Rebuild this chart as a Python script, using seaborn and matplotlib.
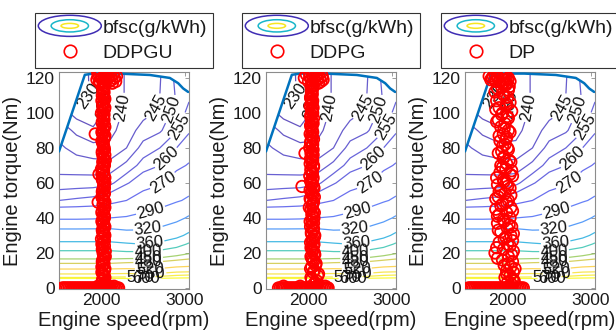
import numpy as np
import matplotlib
matplotlib.use("Agg")
import matplotlib.pyplot as plt
import seaborn as sns
from matplotlib.colors import LinearSegmentedColormap
from matplotlib.patches import Ellipse, Polygon
from matplotlib.legend_handler import HandlerBase
from matplotlib.lines import Line2D

# ---------------- bfsc map ----------------
map_speed = [1490, 1700, 1900, 2100, 2300, 2500, 2700, 2900, 3050]
map_torque = [0, 3, 6, 10, 15, 20, 25, 30, 40, 50, 60, 70, 80, 90, 100, 110, 124]
# bfsc (g/kWh) at each map_torque, one list per map_speed column
bfsc_1490 = [1000, 733, 570, 530, 468, 411, 368, 340, 286, 260, 251.9, 248, 246, 243, 238, 233, 229]
bfsc_1700 = [1000, 733, 570, 530, 468, 411, 368, 340, 286, 261, 252.2, 247.5, 243.3, 238.8, 233, 228.5, 227.5]
bfsc_1900 = [1000, 733, 570, 530, 468, 411, 368, 340, 287, 262, 252.4, 247.1, 241.7, 236.1, 231, 230.5, 231]
bfsc_2100 = [1000, 733, 572, 531, 468, 411, 368, 339, 290, 265, 253.6, 246.9, 241.1, 238.5, 237.5, 237, 237]
bfsc_2300 = [1000, 714, 573, 532, 473.5, 406.8, 364, 332.3, 291.8, 270, 259.2, 251.4, 245, 242.5, 241, 240.5, 240.5]
bfsc_2500 = [1000, 700, 570, 528.6, 476.1, 407.1, 360, 331.4, 296, 276.7, 264.5, 257.2, 252, 247, 243.5, 243, 242.5]
bfsc_2700 = [1000, 721, 576.8, 532, 480, 414.3, 368, 337.1, 300.9, 281.4, 268.3, 260, 255, 249.3, 245.8, 245, 244.5]
bfsc_2900 = [1000, 739, 582.5, 540, 490, 431.3, 381.8, 350.6, 310.9, 287.8, 276.7, 267.1, 260, 254.6, 252.5, 250.5, 251.5]
bfsc_3050 = [1000, 760, 585, 541.4, 495, 446, 405.6, 367.5, 324, 293, 281, 271, 264.4, 259.1, 256.2, 254.3, 253.5]

bfsc_levels = [230, 235, 240, 245, 250, 255, 260, 270, 290, 320, 360, 400, 450, 480, 520, 550, 570, 600]
label_speed = [1840, 2030, 2260, 2650, 2840, 2955, 2780, 2750, 2590, 2560, 2580, 2560, 2560, 2560, 2580, 2600, 2470, 2540]
label_torque = [110, 105, 103, 103, 102, 92, 74, 60, 44, 33, 25, 20.5, 17, 15, 10.8, 8, 6, 4]

max_torque_speed = [1490, 1800, 1900, 2200, 2580, 2820, 2920, 2980, 3040]
max_torque_value = [78, 121.8, 122.5, 122.5, 121.7, 120, 117, 114, 112]

# ---------------- operating points ----------------
ddpgu_bar_speed = [1530, 1550, 1570, 1590, 1610, 1630, 1650, 1670, 1690, 1710, 1730, 1750, 1770, 1790, 1810,
                   1830, 1850, 1870, 1890, 1910, 1930, 1950, 1970, 1990, 2010, 2030, 2050, 2070, 2090, 2110,
                   2130, 2150, 2170, 2190, 2205, 1960, 2000, 2050, 2100, 2150]
ddpgu_bar_torque = [0] * 35 + [1, 1, 1, 1, 1]
ddpgu_col_speed = [2025, 2010, 2040, 2020, 2035, 2005, 2030, 2015, 2045, 2020,
                   2010, 2035, 2025, 2000, 2040, 2015, 2030, 2020, 2005, 2035,
                   2025, 2010, 2040, 2020, 2030, 2005, 2035, 2015, 2025, 2040,
                   2010, 2030, 2020, 2000, 2035, 2015, 2025, 2040, 2010, 2030,
                   2020, 2005, 2035, 2015, 2025, 2040, 2010, 2030, 2020, 2000,
                   2035, 2015, 2025, 2040, 2010, 2030, 2020, 2025,
                   2035, 2015, 2030, 2005, 2040, 2020, 2010, 2030, 2025, 2045,
                   2015, 2005, 2035, 2020, 2030, 2010, 2040, 2025, 2015, 2035,
                   2005, 2030, 2020, 2040, 2015, 2025, 2010, 2035, 2030, 2020,
                   2040, 2005, 2025, 2015, 2030, 2045, 2020, 2010, 2035, 2025,
                   2015, 2030, 2040, 2005, 2020, 2035, 2010, 2025, 2030, 2015,
                   2040, 2020, 2005, 2030, 2025, 2015, 2035, 2020,
                   1925, 1960, 1970]
ddpgu_col_torque = [2, 4, 6, 8, 10, 12, 14, 16, 18, 20, 22, 24, 26, 28, 30, 32, 34, 36, 38, 40,
                    42, 44, 46, 48, 50, 52, 54, 56, 58, 60, 62, 64, 66, 68, 70, 72, 74, 76, 78, 80,
                    82, 84, 86, 88, 90, 92, 94, 96, 98, 100, 102, 104, 106, 108, 110, 112, 114, 116,
                    3, 5, 7, 9, 11, 13, 15, 17, 19, 21, 23, 25, 27, 29, 31, 33, 35, 37, 39, 41,
                    43, 45, 47, 49, 51, 53, 55, 57, 59, 61, 63, 65, 67, 69, 71, 73, 75, 77, 79, 81,
                    83, 85, 87, 89, 91, 93, 95, 97, 99, 101, 103, 105, 107, 109, 111, 113, 115, 117,
                    88, 49, 65]
ddpgu_top_speed = [1945, 1960, 1975, 1990, 2005, 2020, 2035, 2050, 2065, 2080, 2095, 2110, 2125, 2140,
                   2155, 2170, 2180, 1955, 2060, 2100, 1985, 2130]
ddpgu_top_torque = [119, 121, 118, 122, 120, 118, 121, 119, 122, 120, 118, 121, 119, 122,
                    120, 118, 121, 123, 123, 123, 117, 117]

ddpg_bar_speed = [1640, 1660, 1680, 1700, 1720, 1740, 1760, 1780, 1800, 1820, 1840, 1860, 1880, 1900,
                  1920, 1940, 1960, 1980, 2000, 2020, 2040, 2060, 2080, 2100, 2120, 2140, 2160, 2180,
                  2200, 2220, 2235, 1700, 1900, 2100, 2200]
ddpg_bar_torque = [0] * 31 + [1, 1, 1, 1]
ddpg_col_speed = [2060, 2100, 2030, 2120, 2070, 2040, 2090, 2050, 2030, 2070,
                  2045, 2060, 2025, 2055, 2075, 2035, 2060, 2045, 2020, 2065,
                  2040, 2055, 2010, 2050, 2030, 2070, 2040, 2020, 2060, 2035,
                  2050, 2015, 2045, 2030, 2060, 2040, 2025, 2055, 2035, 2015,
                  2050, 2030, 2045, 2020, 2040, 2030, 2055, 2035, 2025, 2050,
                  2040, 2020, 2045, 2030, 2040, 2035, 2050, 2045,
                  2080, 2040, 2110, 2055, 2025, 2085, 2060, 2040, 2075, 2050,
                  2030, 2065, 2045, 2070, 2035, 2055, 2025, 2060, 2040, 2050,
                  2070, 2030, 2045, 2060, 2020, 2050, 2035, 2065, 2040, 2025,
                  2055, 2045, 2030, 2060, 2020, 2050, 2040, 2030, 2055, 2045,
                  2025, 2060, 2035, 2050, 2040, 2025, 2045, 2060, 2030, 2040,
                  2055, 2035, 2050, 2025, 2045, 2040, 2030, 2050,
                  1922, 1958]
ddpg_col_torque = [2, 4, 6, 8, 10, 12, 14, 16, 18, 20, 22, 24, 26, 28, 30, 32, 34, 36, 38, 40,
                   42, 44, 46, 48, 50, 52, 54, 56, 58, 60, 62, 64, 66, 68, 70, 72, 74, 76, 78, 80,
                   82, 84, 86, 88, 90, 92, 94, 96, 98, 100, 102, 104, 106, 108, 110, 112, 114, 116,
                   3, 5, 7, 9, 11, 13, 15, 17, 19, 21, 23, 25, 27, 29, 31, 33, 35, 37, 39, 41,
                   43, 45, 47, 49, 51, 53, 55, 57, 59, 61, 63, 65, 67, 69, 71, 73, 75, 77, 79, 81,
                   83, 85, 87, 89, 91, 93, 95, 97, 99, 101, 103, 105, 107, 109, 111, 113, 115, 117,
                   58, 77]
ddpg_top_speed = [1950, 1975, 2000, 2015, 2030, 2045, 2060, 2075, 2090, 2105, 2120, 2135, 2150, 2165,
                  2175, 2010, 2070, 2120]
ddpg_top_torque = [120, 122, 118, 121, 119, 122, 120, 118, 121, 119, 122, 120, 118, 121,
                   119, 123, 123, 117]

dp_bar_speed = [1530, 1550, 1570, 1590, 1610, 1630, 1650, 1670, 1690, 1710, 1730, 1750, 1770, 1790,
                1810, 1830, 1850, 1870, 1890, 1910, 1930, 1950, 1970, 1990, 2010, 2030, 2050, 2070,
                2090, 2110, 2130, 2150, 2170, 2190]
dp_bar_torque = [0] * 34
dp_col_speed = [2050, 2000, 2080, 1970, 2030, 2070, 1990, 2040, 1960, 2060,
                1880, 2010, 1850, 2070, 1950, 2030, 1900, 2060, 1980, 2040,
                1920, 2000, 2050, 1880, 1960, 2030, 1900, 1990, 1860, 2040, 1940, 2010,
                1890, 1970, 1920, 2030, 1880, 1990, 1950, 2060, 1910, 2050, 1940,
                1990, 2020, 1960, 1930, 2000, 1970, 1910, 1990, 1950, 2010,
                1920, 1970, 1890, 2000, 1940, 1860, 1980, 2030, 1910, 1960, 1850, 2010, 1930, 1980,
                2020, 2060, 1990, 2090, 2010, 1940, 2050, 1870, 2000, 1960, 2070, 1890, 2020, 1950,
                1880, 2060, 1920, 1990, 1860, 2040, 1900, 2000, 1960, 1870, 2030, 1980, 1920, 2040,
                1950, 1890, 2010, 1940, 1980, 1900, 2030, 1960, 1870, 2010, 1930, 2050, 1900, 1990,
                1870, 2000, 1940, 1880, 2020, 1950]
dp_col_torque = [2, 3, 4, 6, 7, 9, 10, 12, 13, 15,
                 17, 18, 20, 21, 22, 24, 26, 27, 29, 30,
                 32, 34, 35, 37, 38, 40, 42, 43, 45, 46, 48, 50,
                 52, 54, 56, 57, 59, 60, 62, 64, 66, 67, 69,
                 71, 73, 75, 78, 80, 82, 84, 86, 88, 90,
                 92, 94, 96, 98, 100, 102, 104, 106, 108, 110, 112, 113, 115, 116,
                 1, 5, 8, 11, 14, 16, 19, 23, 25, 28, 31, 33, 36, 39,
                 41, 44, 47, 49, 51, 53, 55, 58, 61, 63, 65, 68, 70, 72,
                 74, 77, 79, 81, 85, 87, 89, 91, 95, 97, 99, 101, 103, 105,
                 107, 109, 111, 114, 115, 117]
dp_top_speed = [1800, 1830, 1860, 1890, 1920, 1950, 1980, 2010, 2030, 1850, 1940, 1990,
                1815, 1875, 1905, 1965, 2000, 1780]
dp_top_torque = [119, 121, 118, 120, 122, 119, 121, 120, 118, 122, 117, 117,
                 120, 121, 118, 122, 119, 121]

panels = [("DDPGU", ddpgu_bar_speed + ddpgu_col_speed + ddpgu_top_speed,
           ddpgu_bar_torque + ddpgu_col_torque + ddpgu_top_torque),
          ("DDPG", ddpg_bar_speed + ddpg_col_speed + ddpg_top_speed,
           ddpg_bar_torque + ddpg_col_torque + ddpg_top_torque),
          ("DP", dp_bar_speed + dp_col_speed + dp_top_speed,
           dp_bar_torque + dp_col_torque + dp_top_torque)]

# ---------------- style ----------------
sns.set_style("white")
plt.rcParams["font.family"] = ["Liberation Sans", "DejaVu Sans"]
plt.rcParams["axes.unicode_minus"] = False

parula = LinearSegmentedColormap.from_list(
    "parula", [(0.2422, 0.1504, 0.6603), (0.2810, 0.3228, 0.9579), (0.1786, 0.5289, 0.9682),
               (0.0689, 0.6948, 0.8394), (0.2161, 0.7843, 0.5923), (0.6720, 0.7793, 0.2227),
               (0.9970, 0.7659, 0.2199), (0.9657, 0.8820, 0.1433), (0.9763, 0.9831, 0.0538)])

bfsc_grid = np.column_stack([bfsc_1490, bfsc_1700, bfsc_1900, bfsc_2100, bfsc_2300,
                             bfsc_2500, bfsc_2700, bfsc_2900, bfsc_3050])
lev_lo, lev_hi = min(bfsc_levels), max(bfsc_levels)


class EllipseHandler(HandlerBase):
    def create_artists(self, legend, orig_handle, xdescent, ydescent, width, height, fontsize, trans):
        cx = width / 2 - xdescent
        cy = height / 2 - ydescent
        arts = []
        for frac_w, frac_h, col in [(1.08, 1.55, parula(0.02)), (0.64, 0.9, parula(0.4)), (0.3, 0.36, parula(0.9))]:
            e = Ellipse((cx, cy), width * frac_w, height * frac_h, fill=False,
                        edgecolor=col, linewidth=1.1, transform=trans)
            arts.append(e)
        return arts


class ContourProxy:
    pass


W, H = 616, 331
lefts = [59, 266, 465]
fig = plt.figure(figsize=(W / 100, H / 100), dpi=100)

for (name, sp, tq), left in zip(panels, lefts):
    ax = fig.add_axes([left / W, 42 / H, 130 / W, 217 / H])
    ax.set_xlim(1490, 3050)
    ax.set_ylim(-0.6, 123.4)

    clip_pts = ([(1400, max_torque_value[0])] + list(zip(max_torque_speed, max_torque_value))
                + [(3100, max_torque_value[-1]), (3100, -10), (1400, -10)])
    clip_poly = Polygon(clip_pts, closed=True, transform=ax.transData, fill=False, visible=False)
    ax.add_patch(clip_poly)

    for lev, lx, ly in zip(bfsc_levels, label_speed, label_torque):
        col = parula((lev - lev_lo) / (lev_hi - lev_lo))
        cs = ax.contour(map_speed, map_torque, bfsc_grid, levels=[lev],
                        colors=[col], linewidths=0.9, alpha=0.8, zorder=2)
        texts = ax.clabel(cs, manual=[(lx, ly)], inline=True, inline_spacing=1,
                          fontsize=12, colors="#111111", fmt="%d", zorder=3)
        for t in texts:
            t.set_alpha(1.0)
            t.set_color("#111111")
        cs.set_clip_path(clip_poly)

    sns.lineplot(x=max_torque_speed, y=max_torque_value, ax=ax, color="#0072BD",
                 linewidth=1.8, sort=False, estimator=None, zorder=4)
    sns.scatterplot(x=sp, y=tq, ax=ax, marker="o", s=68, facecolor="none",
                    edgecolor="#ff0000", linewidth=1.3, zorder=5, legend=False)

    ax.set_xticks([2000, 3000])
    ax.set_yticks([0, 20, 40, 60, 80, 100, 120])
    ax.tick_params(direction="in", length=3, width=0.6, top=True, right=True,
                   labelsize=12.5, colors="#8c8c8c", labelcolor="#1a1a1a", pad=3)
    for s in ax.spines.values():
        s.set_visible(True)
        s.set_color("#8c8c8c")
        s.set_linewidth(0.8)
    ax.set_xlabel("Engine speed(rpm)", fontsize=14.5, color="#1a1a1a", labelpad=2)
    ax.set_ylabel("Engine torque(Nm)", fontsize=14.5, color="#1a1a1a", labelpad=3)

    handles = [ContourProxy(),
               Line2D([], [], linestyle="none", marker="o", markersize=9,
                      markerfacecolor="none", markeredgecolor="#ff0000", markeredgewidth=1.2)]
    leg = ax.legend(handles, ["bfsc(g/kWh)", name], loc="center", bbox_to_anchor=(0.5, 1.145),
                    handler_map={ContourProxy: EllipseHandler()}, fontsize=14,
                    frameon=True, fancybox=False, shadow=False, framealpha=1,
                    edgecolor="#333333", handlelength=3.0, handletextpad=0.2,
                    borderpad=0.3, labelspacing=0.4, borderaxespad=0)
    leg.get_frame().set_linewidth(0.8)
    for t in leg.get_texts():
        t.set_color("#1a1a1a")

fig.savefig("out.png", dpi=100)
